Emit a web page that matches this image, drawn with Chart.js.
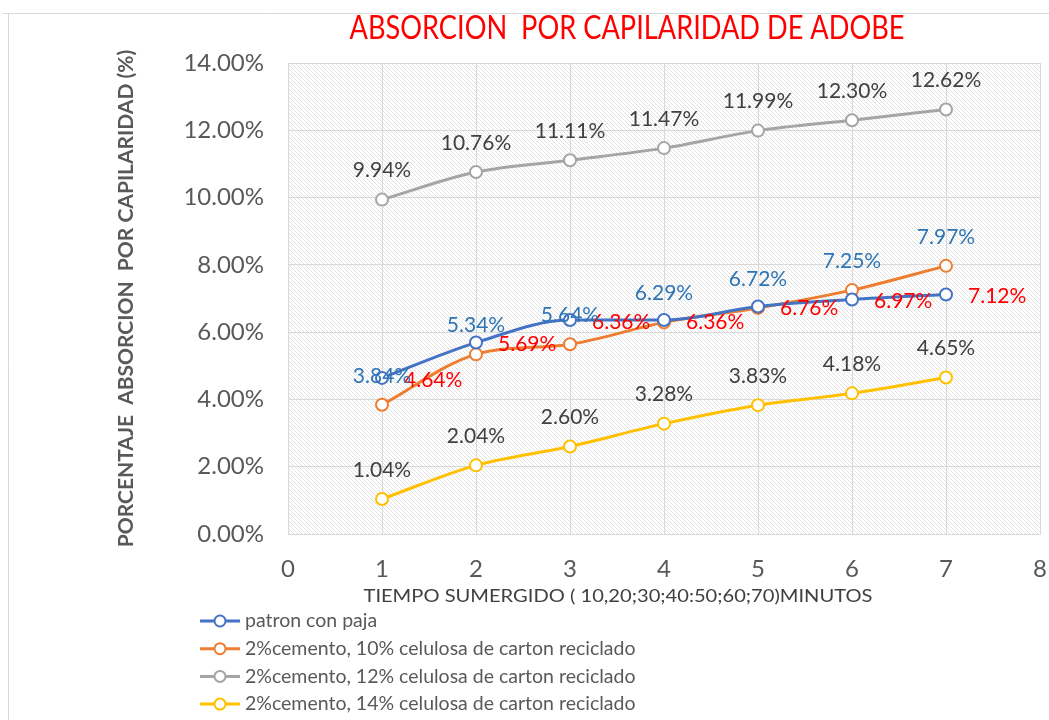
<!DOCTYPE html>
<html>
<head>
<meta charset="utf-8">
<script src="https://cdn.jsdelivr.net/npm/chart.js@4.4.1/dist/chart.umd.min.js"></script>
<style>
  html, body { margin: 0; padding: 0; background: #ffffff; }
  #wrap { width: 1049px; height: 720px; position: relative; }
</style>
</head>
<body>
<div id="wrap"><canvas id="chart"></canvas></div>
<script>
// tiempo (x positions)
const minutos = [1, 2, 3, 4, 5, 6, 7];

// series values (%)
const patronConPaja = [4.64, 5.69, 6.36, 6.36, 6.76, 6.97, 7.12];
const celulosa10 = [3.84, 5.34, 5.64, 6.29, 6.72, 7.25, 7.97];
const celulosa12 = [9.94, 10.76, 11.11, 11.47, 11.99, 12.30, 12.62];
const celulosa14 = [1.04, 2.04, 2.60, 3.28, 3.83, 4.18, 4.65];

const seriesNames = [
    "patron con paja",
    "2%cemento, 10% celulosa de carton reciclado",
    "2%cemento, 12% celulosa de carton reciclado",
    "2%cemento, 14% celulosa de carton reciclado"
];

const chartTitle = "ABSORCION  POR CAPILARIDAD DE ADOBE";
const xTitle = "TIEMPO SUMERGIDO ( 10,20;30;40:50;60;70)MINUTOS";
const yTitle = "PORCENTAJE  ABSORCION  POR CAPILARIDAD (%)";

const FONT = "Lato, 'Open Sans', sans-serif";

function toPoints(arr) {
    return arr.map((v, i) => ({ x: minutos[i], y: v }));
}

function makeSet(label, data, color, labelColor, labelPos) {
    return {
        label: label,
        data: toPoints(data),
        borderColor: color,
        backgroundColor: "#ffffff",
        borderWidth: 3,
        pointRadius: 6,
        pointBorderWidth: 2,
        pointBackgroundColor: "#ffffff",
        pointBorderColor: color,
        tension: 0.35,
        cubicInterpolationMode: "monotone",
        labelColor: labelColor,
        labelPos: labelPos
    };
}

// squeeze a text horizontally to a given width (narrow Excel look)
function fitText(ctx, txt, cx, cy, width) {
    const w = ctx.measureText(txt).width;
    ctx.save();
    ctx.translate(cx, cy);
    ctx.scale(width / w, 1);
    ctx.textAlign = "center";
    ctx.textBaseline = "middle";
    ctx.fillText(txt, 0, 0);
    ctx.restore();
}

// hatched plot background, frame, titles
const hatchBg = {
    id: "hatchBg",
    beforeDraw(chart) {
        const { ctx, chartArea: a } = chart;
        const p = document.createElement("canvas");
        p.width = 4; p.height = 4;
        const pc = p.getContext("2d");
        pc.fillStyle = "#ffffff";
        pc.fillRect(0, 0, 4, 4);
        pc.strokeStyle = "#e3e3e3";
        pc.lineWidth = 1;
        pc.beginPath();
        pc.moveTo(0, 0); pc.lineTo(4, 4);
        pc.moveTo(-1, 3); pc.lineTo(1, 5);
        pc.moveTo(3, -1); pc.lineTo(5, 1);
        pc.stroke();
        ctx.save();
        ctx.fillStyle = ctx.createPattern(p, "repeat");
        ctx.fillRect(a.left, a.top, a.right - a.left, a.bottom - a.top);
        // frame lines of the chart box
        ctx.strokeStyle = "#d9d9d9";
        ctx.lineWidth = 1;
        ctx.beginPath();
        ctx.moveTo(3, 13.5); ctx.lineTo(1049, 13.5);
        ctx.moveTo(8.5, 13); ctx.lineTo(8.5, 720);
        ctx.stroke();
        // main title
        ctx.fillStyle = "#ff0000";
        ctx.font = "32px " + FONT;
        fitText(ctx, chartTitle, 627, 29, 555);
        // x axis title
        ctx.fillStyle = "#404040";
        ctx.font = "18px " + FONT;
        fitText(ctx, xTitle, 618, 596, 509);
        ctx.restore();
    }
};

// data labels + legend
const labelsAndLegend = {
    id: "labelsAndLegend",
    afterDatasetsDraw(chart) {
        const ctx = chart.ctx;
        ctx.save();
        ctx.font = "21px " + FONT;
        chart.data.datasets.forEach((ds, i) => {
            const meta = chart.getDatasetMeta(i);
            meta.data.forEach((pt, j) => {
                const txt = ds.data[j].y.toFixed(2) + "%";
                ctx.fillStyle = ds.labelColor;
                ctx.textBaseline = "middle";
                if (ds.labelPos === "right") {
                    ctx.textAlign = "left";
                    ctx.fillText(txt, pt.x + 22, pt.y + 2);
                } else {
                    ctx.textAlign = "center";
                    ctx.fillText(txt, pt.x, pt.y - 29);
                }
            });
        });
        // legend
        ctx.font = "19.5px " + FONT;
        ctx.textAlign = "left";
        ctx.textBaseline = "middle";
        chart.data.datasets.forEach((ds, i) => {
            const y = 621 + i * 27.7;
            ctx.strokeStyle = ds.borderColor;
            ctx.lineWidth = 3;
            ctx.beginPath();
            ctx.moveTo(200, y); ctx.lineTo(240, y);
            ctx.stroke();
            ctx.fillStyle = "#ffffff";
            ctx.lineWidth = 2;
            ctx.beginPath();
            ctx.arc(220, y, 5.5, 0, Math.PI * 2);
            ctx.fill(); ctx.stroke();
            ctx.fillStyle = "#595959";
            ctx.fillText(ds.label, 245, y);
        });
        ctx.restore();
    }
};

new Chart(document.getElementById("chart"), {
    type: "line",
    data: {
        datasets: [
            makeSet(seriesNames[0], patronConPaja, "#4472C4", "#ff0000", "right"),
            makeSet(seriesNames[1], celulosa10, "#ED7D31", "#2E75B6", "above"),
            makeSet(seriesNames[2], celulosa12, "#A5A5A5", "#404040", "above"),
            makeSet(seriesNames[3], celulosa14, "#FFC000", "#404040", "above")
        ]
    },
    options: {
        responsive: true,
        maintainAspectRatio: false,
        animation: false,
        layout: { padding: { left: 110, right: 9, top: 63, bottom: 106 } },
        plugins: {
            legend: { display: false },
            title: { display: false },
            tooltip: { enabled: false }
        },
        scales: {
            x: {
                type: "linear",
                min: 0,
                max: 8,
                afterFit: (s) => {
                    s.height = 80;
                    s.paddingLeft = 0;
                    s.paddingRight = 0;
                },
                grid: { color: "#d9d9d9", drawTicks: false },
                border: { color: "#d9d9d9" },
                ticks: {
                    stepSize: 1,
                    padding: 21,
                    color: "#595959",
                    font: { family: FONT, size: 24 }
                }
            },
            y: {
                min: 0,
                max: 14,
                afterFit: (s) => { s.width = 178; },
                grid: { color: "#d9d9d9", drawTicks: false },
                border: { display: false },
                ticks: {
                    stepSize: 2,
                    padding: 24,
                    color: "#595959",
                    font: { family: FONT, size: 24 },
                    callback: (v) => v.toFixed(2) + "%"
                },
                title: {
                    display: true,
                    text: yTitle,
                    color: "#595959",
                    font: { family: FONT, size: 21, weight: "bold" },
                    padding: { top: 4, bottom: 0 }
                }
            }
        }
    },
    plugins: [hatchBg, labelsAndLegend]
});
</script>
</body>
</html>
